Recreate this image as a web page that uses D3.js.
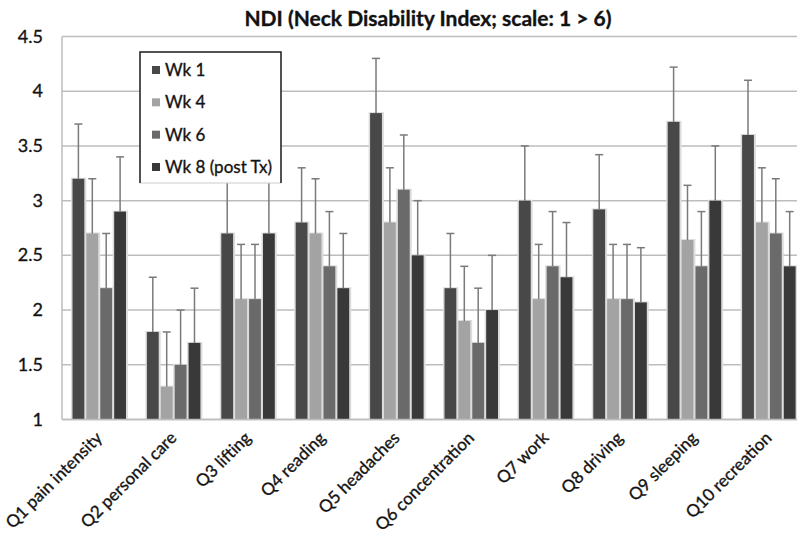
<!DOCTYPE html>
<html>
<head>
<meta charset="utf-8">
<script src="https://cdn.jsdelivr.net/npm/d3@7"></script>
<style>
  body { margin: 0; background: #fff; }
  svg { display: block; font-family: Lato, "Open Sans", sans-serif; }
  text { stroke: #1a1a1a; stroke-width: 0.35px; }
</style>
</head>
<body>
<div></div>
<script>
// categories and series
var questions = ["Q1 pain intensity", "Q2 personal care", "Q3 lifting", "Q4 reading",
                 "Q5 headaches", "Q6 concentration", "Q7 work", "Q8 driving",
                 "Q9 sleeping", "Q10 recreation"];
var weeks = ["Wk 1", "Wk 4", "Wk 6", "Wk 8 (post Tx)"];

var wk1 = [3.2, 1.8, 2.7, 2.8, 3.8, 2.2, 3.0, 2.92, 3.72, 3.6];
var wk4 = [2.7, 1.3, 2.1, 2.7, 2.8, 1.9, 2.1, 2.1, 2.64, 2.8];
var wk6 = [2.2, 1.5, 2.1, 2.4, 3.1, 1.7, 2.4, 2.1, 2.4, 2.7];
var wk8 = [2.9, 1.7, 2.7, 2.2, 2.5, 2.0, 2.3, 2.07, 3.0, 2.4];

// upper error (same for every bar, +0.5)
var err1 = [0.5, 0.5, 0.5, 0.5, 0.5, 0.5, 0.5, 0.5, 0.5, 0.5];
var err4 = [0.5, 0.5, 0.5, 0.5, 0.5, 0.5, 0.5, 0.5, 0.5, 0.5];
var err6 = [0.5, 0.5, 0.5, 0.5, 0.5, 0.5, 0.5, 0.5, 0.5, 0.5];
var err8 = [0.5, 0.5, 0.5, 0.5, 0.5, 0.5, 0.5, 0.5, 0.5, 0.5];

var yTicks = [1, 1.5, 2, 2.5, 3, 3.5, 4, 4.5];

var series = [wk1, wk4, wk6, wk8];
var errors = [err1, err4, err6, err8];
var colors = ["#484848", "#a3a3a3", "#6a6a6a", "#393939"];

var width = 797, height = 535;

var svg = d3.select("div").append("svg")
    .attr("width", width)
    .attr("height", height);

var x = d3.scaleBand().domain(questions).range([62, 806]);
var xs = d3.scaleBand().domain(weeks).range([10.5, 64]).paddingInner(0.15);
var y = d3.scaleLinear().domain([1, 4.5]).range([419.5, 36.5]);

// gridlines
svg.append("g")
    .selectAll("line")
    .data(yTicks)
    .join("line")
    .attr("x1", 62).attr("x2", 806)
    .attr("y1", function(d) { return y(d); })
    .attr("y2", function(d) { return y(d); })
    .attr("stroke", "#bdbdbd")
    .attr("stroke-width", 1.5);

// left edge of plot
svg.append("line")
    .attr("x1", 62).attr("x2", 62)
    .attr("y1", y(4.5)).attr("y2", y(1))
    .attr("stroke", "#bdbdbd")
    .attr("stroke-width", 1.5);

// y tick labels
svg.append("g")
    .selectAll("text")
    .data(yTicks)
    .join("text")
    .attr("x", 43)
    .attr("y", function(d) { return y(d) + 6; })
    .attr("text-anchor", "end")
    .attr("font-size", 18)
    .attr("fill", "#111")
    .text(function(d) { return d; });

var flat = [];
questions.forEach(function(q, i) {
    weeks.forEach(function(w, j) {
        flat.push({q: q, w: w, v: series[j][i], e: errors[j][i], c: colors[j]});
    });
});

var bars = svg.append("g");

// soft halo behind bars
bars.selectAll("rect.halo")
    .data(flat)
    .join("rect")
    .attr("class", "halo")
    .attr("x", function(d) { return x(d.q) + xs(d.w) - 1.5; })
    .attr("width", xs.bandwidth() + 3.5)
    .attr("y", function(d) { return y(d.v) - 1; })
    .attr("height", function(d) { return y(1) - y(d.v) + 1; })
    .attr("fill", "#dcdcdc");

// error bars (upper only)
var eb = svg.append("g").attr("stroke", "#7a7a7a").attr("stroke-width", 1.5);
flat.forEach(function(d) {
    var cx = x(d.q) + xs(d.w) + xs.bandwidth() / 2;
    eb.append("line")
        .attr("x1", cx).attr("x2", cx)
        .attr("y1", y(d.v)).attr("y2", y(d.v + d.e));
    eb.append("line")
        .attr("x1", cx - 4).attr("x2", cx + 4)
        .attr("y1", y(d.v + d.e)).attr("y2", y(d.v + d.e));
});

bars.selectAll("rect.bar")
    .data(flat)
    .join("rect")
    .attr("class", "bar")
    .attr("x", function(d) { return x(d.q) + xs(d.w); })
    .attr("width", xs.bandwidth())
    .attr("y", function(d) { return y(d.v); })
    .attr("height", function(d) { return y(1) - y(d.v); })
    .attr("fill", function(d) { return d.c; });

// bottom edge
svg.append("line")
    .attr("x1", 62).attr("x2", 806)
    .attr("y1", y(1)).attr("y2", y(1))
    .attr("stroke", "#bdbdbd")
    .attr("stroke-width", 1.5);

// x labels, rotated
svg.append("g")
    .selectAll("text")
    .data(questions)
    .join("text")
    .attr("transform", function(d) {
        return "translate(" + (x(d) + x.bandwidth() / 2 + 4) + ",439) rotate(-45)";
    })
    .attr("text-anchor", "end")
    .attr("font-size", 17)
    .attr("fill", "#111")
    .text(function(d) { return d; });

// title
svg.append("text")
    .attr("x", 428).attr("y", 26)
    .attr("text-anchor", "middle")
    .attr("font-size", 21)
    .attr("font-weight", "bold")
    .attr("fill", "#111")
    .text("NDI (Neck Disability Index; scale: 1 > 6)");

// legend
var legend = svg.append("g");
legend.append("rect")
    .attr("x", 140).attr("y", 52)
    .attr("width", 141).attr("height", 131)
    .attr("fill", "#fff")
    .attr("stroke", "#cccccc");
legend.append("path")
    .attr("d", "M140,183 V52 H281 V183")
    .attr("fill", "none")
    .attr("stroke", "#222")
    .attr("stroke-width", 1.5);

var rowY = d3.scalePoint().domain(weeks).range([70, 167]);
weeks.forEach(function(w, j) {
    legend.append("rect")
        .attr("x", 152).attr("y", rowY(w) - 4)
        .attr("width", 8).attr("height", 8)
        .attr("fill", colors[j]);
    legend.append("text")
        .attr("x", 165).attr("y", rowY(w) + 6)
        .attr("font-size", 17)
        .attr("fill", "#111")
        .text(w);
});
</script>
</body>
</html>
